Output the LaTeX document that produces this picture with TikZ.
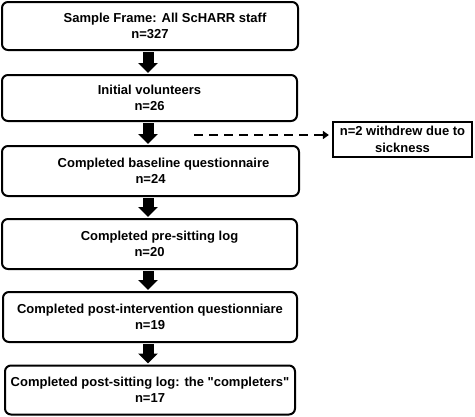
\documentclass[tikz,border=0pt]{standalone}
\usepackage{fontspec}
\setmainfont{Liberation Sans}[Ligatures=TeXOff]
\usetikzlibrary{arrows.meta}
\begin{document}
\begin{tikzpicture}[x=1pt,y=-1pt,
  stagebox/.style={draw=black,line width=2pt,rounded corners=6pt,align=center,
    font=\bfseries\fontsize{13}{16.5}\selectfont,inner sep=0pt},
  sidebox/.style={draw=black,line width=2.2pt,align=center,
    font=\bfseries\fontsize{13}{17}\selectfont,inner sep=0pt,
    minimum width=139pt,minimum height=35pt},
  flowarrow/.style={line width=11pt,-{Triangle[width=19pt,length=10pt]}},
  dropout/.style={line width=2.4pt,dash pattern=on 9pt off 6pt,-{Triangle[width=8pt,length=6pt]}}
]
\path[use as bounding box] (0,0) rectangle (475,416);
\node[stagebox,minimum width=296pt,minimum height=48pt] (b1) at (150,26)
  {\hspace*{30pt}Sample Frame: All ScHARR staff\\n=327};
\node[stagebox,minimum width=295pt,minimum height=46pt] (b2) at (149.5,98)
  {Initial volunteers\\n=26};
\node[stagebox,minimum width=297pt,minimum height=50pt] (b3) at (150.5,171)
  {\hspace*{26pt}Completed baseline questionnaire\\n=24};
\node[stagebox,minimum width=295pt,minimum height=50pt] (b4) at (149.5,244)
  {\hspace*{20pt}Completed pre-sitting log\\n=20};
\node[stagebox,minimum width=294pt,minimum height=50pt] (b5) at (150,317)
  {Completed post-intervention questionniare\\n=19};
\node[stagebox,minimum width=290pt,minimum height=49pt] (b6) at (150,390)
  {Completed post-sitting log: the "completers"\\n=17};
\node[sidebox] (s) at (402.5,139.5) {n=2 withdrew due to\\sickness};
\coordinate (d0) at (194,135);
\foreach \a/\b in {b1/b2,b2/b3,b3/b4,b4/b5,b5/b6}{
  \draw[flowarrow] ([yshift=-1pt]\a.south -| 148,0) -- ([yshift=1pt]\b.north -| 148,0);
}
\draw[dropout] (d0) -- ([xshift=-3pt]d0 -| s.west);
\end{tikzpicture}
\end{document}
